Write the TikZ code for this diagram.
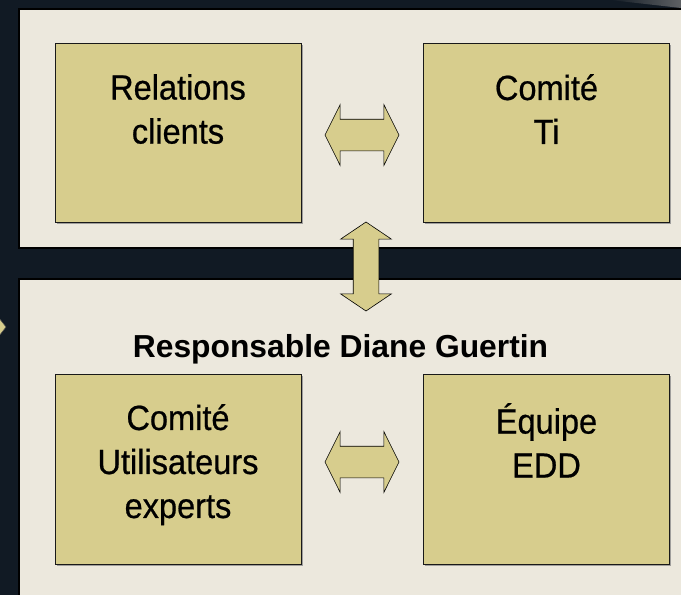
\documentclass[tikz,border=0pt]{standalone}
\usepackage{fontspec}
\setmainfont{Liberation Sans}
\newfontfamily\etroite[FakeStretch=0.93,FakeBold=0.6]{Liberation Sans}
\usetikzlibrary{shapes.arrows,shadows}

\definecolor{fond}{RGB}{17,26,36}
\definecolor{panneau}{RGB}{236,232,221}
\definecolor{kaki}{RGB}{215,205,141}

\tikzset{
	cadre/.style={draw=black!90, line width=1pt, fill=kaki, inner sep=0pt,
		minimum width=246pt, minimum height=179pt,
		drop shadow={shadow xshift=1.5pt, shadow yshift=-1.5pt, fill=black!45, opacity=0.8}},
	texte/.style={anchor=north, align=center, inner sep=0pt,
		font=\etroite\fontsize{35}{44}\selectfont},
	fleche/.style={double arrow, draw=black, line width=0.6pt, fill=kaki,
		inner xsep=0pt, inner ysep=15.5pt, double arrow head extend=14.5pt,
		double arrow tip angle=127, minimum height=74pt},
}

\begin{document}
\begin{tikzpicture}[x=1pt,y=-1pt]
	\useasboundingbox (0,0) rectangle (681,595);

	% Background and the two panels:
	\fill [fond] (0,0) rectangle (681,595);
	\shade [left color=fond, right color=gray!70!fond] (610,0) -- (681,0) -- (681,8) -- cycle;
	\filldraw [fill=kaki, draw=black!70, line width=0.5pt] (-1,318) -- (6,327) -- (-1,336) -- cycle;
	\draw [line width=2pt, fill=panneau] (19,8.5) rectangle (700,248);
	\draw [line width=2pt, fill=panneau] (19,278.5) rectangle (700,620);

	% Boxes of the upper panel:
	\node [cadre] (rel) at (178,132.5) {};
	\node [cadre] (comite) at (546.5,132.5) {};
	\node [texte] (t-rel) at ([yshift=-31.5pt]rel.north) {Relations\\clients};
	\node [texte] (t-comite) at ([yshift=-31.5pt]comite.north) {Comité\\Ti};

	% Boxes of the lower panel:
	\node [font=\bfseries\fontsize{31.8}{37}\selectfont, anchor=base] (resp) at (340.5,357) {Responsable Diane Guertin};
	\node [cadre, minimum height=190pt] (util) at (178,469) {};
	\node [cadre, minimum height=190pt] (equipe) at (546.5,469) {};
	\node [texte] (t-util) at ([yshift=-30.5pt]util.north) {Comité\\Utilisateurs\\experts};
	\node [texte] (t-equipe) at ([yshift=-29.5pt]equipe.north) {Équipe\\EDD};

	% Double arrows between the boxes and the panels:
	\node [fleche] (f-haut) at (362,135) {};
	\node [fleche] (f-bas) at (362,462) {};
	\node [fleche, rotate=90, inner ysep=12.5pt, double arrow head extend=12.5pt,
		double arrow tip angle=112, minimum height=89pt] (f-milieu) at (366,266.5) {};
\end{tikzpicture}
\end{document}
